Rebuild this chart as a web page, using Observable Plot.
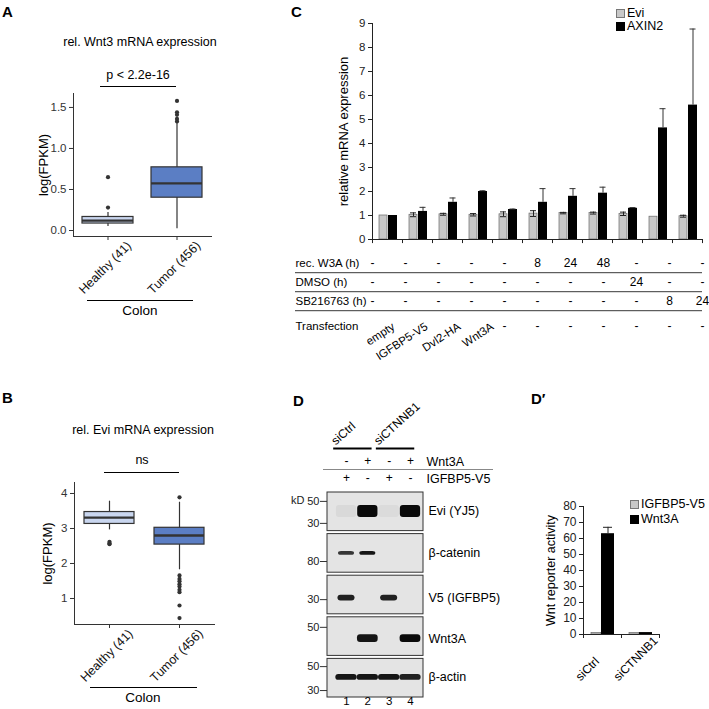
<!DOCTYPE html>
<html>
<head>
<meta charset="utf-8">
<script src="https://cdn.jsdelivr.net/npm/d3@7"></script>
<script src="https://cdn.jsdelivr.net/npm/@observablehq/plot@0.6"></script>
<style>
html,body{margin:0;padding:0;background:#fff;}
#fig{position:relative;width:709px;height:709px;overflow:hidden;background:#fff;font-family:"Liberation Sans",Arial,Helvetica,sans-serif;color:#000;}
#fig svg{position:absolute;overflow:visible;}
</style>
</head>
<body>
<div id="fig"></div>
<script>
// ---------------- DATA ----------------
// Panels A/B: box plot summaries (Healthy, Tumor)
const boxGroups = ["Healthy (41)", "Tumor (456)"];
const wnt3Low = [0.05, 0.02];
const wnt3Q1 = [0.085, 0.40];
const wnt3Median = [0.12, 0.575];
const wnt3Q3 = [0.165, 0.77];
const wnt3High = [0.22, 1.32];
const wnt3OutHealthy = [0.28, 0.65];
const wnt3OutTumor = [1.33, 1.36, 1.41, 1.44, 1.58];
const wnt3Ticks = [0, 0.5, 1.0, 1.5];

const eviLow = [2.96, 1.82];
const eviQ1 = [3.13, 2.54];
const eviMedian = [3.31, 2.8];
const eviQ3 = [3.47, 3.02];
const eviHigh = [3.78, 3.75];
const eviOutHealthy = [2.55, 2.58, 2.62];
const eviOutTumor = [3.89, 1.66, 1.56, 1.49, 1.41, 1.34, 1.25, 1.18, 0.8, 0.44];
const eviTicks = [1, 2, 3, 4];

// Panel C: relative mRNA expression
const conditions = ["empty", "IGFBP5-V5", "Dvl2-HA", "Wnt3A", "untreated", "W3A 8h", "W3A 24h", "W3A 48h", "DMSO 24h", "SB 8h", "SB 24h"];
const eviExpr = [1.0, 1.03, 1.05, 1.03, 1.05, 1.08, 1.1, 1.1, 1.07, 0.95, 0.97];
const eviErr = [0, 0.08, 0.04, 0.05, 0.1, 0.12, 0.03, 0.04, 0.07, 0, 0.04];
const axin2Expr = [1.0, 1.17, 1.55, 2.0, 1.25, 1.55, 1.8, 1.93, 1.3, 4.65, 5.6];
const axin2Err = [0, 0.17, 0.18, 0.03, 0.02, 0.57, 0.32, 0.25, 0.03, 0.8, 3.17];
const cTicks = [0, 1, 2, 3, 4, 5, 6, 7, 8, 9];
const tableRows = ["rec. W3A (h)", "DMSO (h)", "SB216763 (h)", "Transfection"];
const rowW3A = ["-", "-", "-", "-", "-", "8", "24", "48", "-", "-", "-"];
const rowDMSO = ["-", "-", "-", "-", "-", "-", "-", "-", "24", "-", "-"];
const rowSB = ["-", "-", "-", "-", "-", "-", "-", "-", "-", "8", "24"];
const rowTransfection = ["empty", "IGFBP5-V5", "Dvl2-HA", "Wnt3A", "-", "-", "-", "-", "-", "-", "-"];

// Panel D: western blot
const blotLanes = [1, 2, 3, 4];
const blotRows = ["Evi (YJ5)", "β-catenin", "V5 (IGFBP5)", "Wnt3A", "β-actin"];
const eviBand = [0.05, 1.0, 0.04, 1.0];
const bCateninBand = [0.8, 0.95, 0, 0];
const v5Band = [0.9, 0, 0.9, 0];
const wnt3aBand = [0, 0.95, 0, 1.0];
const bActinBand = [0.95, 0.95, 0.95, 0.9];
const wnt3aTreatment = ["-", "+", "-", "+"];
const igfbp5Transfection = ["+", "-", "+", "-"];
const siGroups = ["siCtrl", "siCTNNB1"];
const siLanes = [[1, 2], [3, 4]];
const markerRow = [0, 0, 1, 2, 3, 4, 4];
const markerKD = ["50", "30", "80", "30", "50", "50", "30"];
const markerPos = [0.23, 0.8, 0.71, 0.62, 0.26, 0.2, 0.82];

// Panel D′: Wnt reporter activity
const reporterGroups = ["siCtrl", "siCTNNB1"];
const reporterIGFBP5 = [1.0, 1.0];
const reporterWnt3A = [63.0, 1.2];
const reporterWnt3AErr = [4.0, 0.2];
const reporterTicks = [0, 10, 20, 30, 40, 50, 60, 70, 80];

// ---------------- HELPERS ----------------
const FONT = '"Liberation Sans", Arial, Helvetica, sans-serif';
const fig = document.getElementById("fig");
function addPlot(opts, left, top, fontSize = 11, color = "#222") {
  const svg = Plot.plot({...opts, style: {background: "transparent", overflow: "visible", fontFamily: FONT, fontSize: fontSize + "px", color}});
  svg.style.position = "absolute";
  svg.style.left = left + "px";
  svg.style.top = top + "px";
  fig.appendChild(svg);
  return svg;
}
function label(text, x, y, o = {}) {
  const d = document.createElement("div");
  d.textContent = text;
  const tx = o.anchor === "start" ? "0" : "-50%";
  d.style.cssText = `position:absolute;white-space:nowrap;left:${x}px;top:${y}px;font-size:${o.size || 12}px;font-weight:${o.bold ? "bold" : "normal"};transform:translate(${tx},-50%);line-height:1;color:${o.color || "#000"};`;
  fig.appendChild(d);
}
function hline(x1, x2, y, color = "#000", w = 1) {
  const d = document.createElement("div");
  d.style.cssText = `position:absolute;left:${x1}px;top:${y - w / 2}px;width:${x2 - x1}px;height:${w}px;background:${color};`;
  fig.appendChild(d);
}
function swatch(x, y, fill, stroke) {
  const d = document.createElement("div");
  d.style.cssText = `position:absolute;left:${x}px;top:${y - 4}px;width:7px;height:7px;background:${fill};border:1px solid ${stroke};`;
  fig.appendChild(d);
}

// ---------------- PANELS A & B ----------------
function boxPanel(c) {
  const g = boxGroups, idx = [0, 1];
  return addPlot({
    width: c.width, height: c.height,
    marginLeft: c.ml, marginRight: c.mr, marginTop: c.mt, marginBottom: c.mb,
    x: {domain: g, padding: 0, line: true, tickSize: 4, tickFormat: () => "", label: null},
    y: {domain: c.yDomain, ticks: c.ticks, tickFormat: c.fmt, line: true, tickSize: 4, tickPadding: 3, label: null},
    marks: [
      Plot.ruleX(idx, {x: i => g[i], y1: i => c.low[i], y2: i => c.high[i], stroke: "#333", strokeWidth: 1.2}),
      Plot.barY([0], {x: () => g[0], y1: () => c.q1[0], y2: () => c.q3[0], fill: c.fills[0], stroke: "#333", strokeWidth: 1.2, insetLeft: c.inset, insetRight: c.inset}),
      Plot.barY([1], {x: () => g[1], y1: () => c.q1[1], y2: () => c.q3[1], fill: c.fills[1], stroke: "#333", strokeWidth: 1.2, insetLeft: c.inset, insetRight: c.inset}),
      Plot.tickY(idx, {x: i => g[i], y: i => c.med[i], stroke: "#333", strokeWidth: 2.4, insetLeft: c.inset, insetRight: c.inset}),
      Plot.dot(c.outH, {x: () => g[0], y: d => d, r: 2.1, fill: "#333", stroke: "none"}),
      Plot.dot(c.outT, {x: () => g[1], y: d => d, r: 2.1, fill: "#333", stroke: "none"}),
      Plot.text(g, {x: d => d, text: d => d, frameAnchor: "bottom", textAnchor: "middle", dy: 34, rotate: -45, fontSize: 12.5, fill: "#111"}),
      Plot.text(["log(FPKM)"], {frameAnchor: "left", textAnchor: "middle", rotate: -90, dx: c.ylabDx, fontSize: 13, fill: "#000"})
    ]
  }, c.left, c.top, 11.5, "#333");
}

boxPanel({left: 0, top: 88, width: 230, height: 212, ml: 73, mr: 19, mt: 5, mb: 64,
  yDomain: [-0.073, 1.67], ticks: wnt3Ticks, fmt: d3.format(".1f"),
  low: wnt3Low, q1: wnt3Q1, med: wnt3Median, q3: wnt3Q3, high: wnt3High,
  outH: wnt3OutHealthy, outT: wnt3OutTumor, fills: ["#c9d5ee", "#5b7ec4"], inset: 9, ylabDx: -30});

boxPanel({left: 0, top: 478, width: 230, height: 210, ml: 74, mr: 16, mt: 4, mb: 64,
  yDomain: [0.257, 4.314], ticks: eviTicks, fmt: d3.format("d"),
  low: eviLow, q1: eviQ1, med: eviMedian, q3: eviQ3, high: eviHigh,
  outH: eviOutHealthy, outT: eviOutTumor, fills: ["#c9d6ef", "#5b7ec4"], inset: 10, ylabDx: -27});

label("A", 2, 11, {bold: true, size: 15, anchor: "start"});
label("rel. Wnt3 mRNA expression", 140, 42, {size: 12.5});
label("p < 2.2e-16", 138, 75, {size: 12.5});
hline(100, 176, 86, "#000", 1);
hline(87, 193, 300, "#000", 1);
label("Colon", 140, 311, {size: 13.5});

label("B", 2, 397, {bold: true, size: 15, anchor: "start"});
label("rel. Evi mRNA expression", 143, 430, {size: 12.5});
label("ns", 142, 460, {size: 12.5});
hline(104, 179, 472, "#000", 1);
hline(90, 197, 687, "#000", 1);
label("Colon", 143, 698, {size: 13.5});

// ---------------- PANEL C ----------------
const cIdx = d3.range(conditions.length);
addPlot({
  width: 419, height: 250, marginLeft: 82, marginRight: 7, marginTop: 23, marginBottom: 11,
  x: {domain: conditions, padding: 0, axis: null},
  y: {domain: [0, 9], ticks: cTicks, tickFormat: d3.format("d"), line: true, tickSize: 4, tickPadding: 3, label: null},
  marks: [
    Plot.barY(cIdx, {x: i => conditions[i], y: i => eviExpr[i], fill: "#c8c8c8", stroke: "#6a6a6a", strokeWidth: 0.7, insetLeft: 7, insetRight: 15}),
    Plot.barY(cIdx, {x: i => conditions[i], y: i => axin2Expr[i], fill: "#000", insetLeft: 16, insetRight: 5}),
    Plot.ruleX(cIdx.filter(i => eviErr[i] > 0), {x: i => conditions[i], y1: i => eviExpr[i] - eviErr[i], y2: i => eviExpr[i] + eviErr[i], dx: -4, stroke: "#222", strokeWidth: 1}),
    Plot.tickY(cIdx.filter(i => eviErr[i] > 0), {x: i => conditions[i], y: i => eviExpr[i] + eviErr[i], insetLeft: 8, insetRight: 16, stroke: "#222", strokeWidth: 1}),
    Plot.tickY(cIdx.filter(i => eviErr[i] > 0), {x: i => conditions[i], y: i => eviExpr[i] - eviErr[i], insetLeft: 8, insetRight: 16, stroke: "#222", strokeWidth: 1}),
    Plot.ruleX(cIdx.filter(i => axin2Err[i] > 0), {x: i => conditions[i], y1: i => axin2Expr[i], y2: i => axin2Expr[i] + axin2Err[i], dx: 5.5, stroke: "#333", strokeWidth: 1}),
    Plot.tickY(cIdx.filter(i => axin2Err[i] > 0), {x: i => conditions[i], y: i => axin2Expr[i] + axin2Err[i], insetLeft: 17.5, insetRight: 6.5, stroke: "#333", strokeWidth: 1}),
    Plot.ruleY([0], {stroke: "#222", strokeWidth: 1}),
    Plot.ruleX(conditions, {x: d => d, y1: 0, y2: -0.17, dx: -15, stroke: "#222"}),
    Plot.ruleX([conditions[conditions.length - 1]], {x: d => d, y1: 0, y2: -0.17, dx: 15, stroke: "#222"}),
    Plot.text(["relative mRNA expression"], {frameAnchor: "left", textAnchor: "middle", rotate: -90, dx: -29, fontSize: 13, fill: "#000"})
  ]
}, 290, 0, 11.5, "#222");

// table under C
const treatRows = [rowW3A, rowDMSO, rowSB];
const tableCells = treatRows.flatMap((r, ri) => r.map((v, ci) => ({row: tableRows[ri], cond: conditions[ci], v})));
addPlot({
  width: 419, height: 110, marginLeft: 82, marginRight: 7, marginTop: 12, marginBottom: 39,
  x: {domain: conditions, padding: 0, axis: null},
  y: {type: "point", domain: tableRows, padding: 0, axis: null},
  marks: [
    Plot.text(tableCells, {x: "cond", y: "row", text: "v", fontSize: 12, fill: "#000"}),
    Plot.text(cIdx.filter(i => rowTransfection[i] === "-"), {x: i => conditions[i], y: () => tableRows[3], text: i => rowTransfection[i], dy: 6, fontSize: 12, fill: "#000"}),
    Plot.text(cIdx.filter(i => rowTransfection[i] !== "-"), {x: i => conditions[i], y: () => tableRows[3], text: i => rowTransfection[i], rotate: -33, textAnchor: "end", dx: 21, dy: 5, fontSize: 11.5, fill: "#000"}),
    Plot.text(tableRows.slice(0, 3), {y: d => d, text: d => d, frameAnchor: "left", dx: -77, textAnchor: "start", fontSize: 11.5, fill: "#000"}),
    Plot.text(tableRows.slice(3), {y: d => d, text: d => d, frameAnchor: "left", dx: -77, dy: 6, textAnchor: "start", fontSize: 11.5, fill: "#000"}),
    Plot.ruleY(tableRows.slice(1), {y: d => d, dy: -9.8, insetLeft: -77, stroke: "#222", strokeWidth: 0.9})
  ]
}, 290, 250, 12, "#000");

label("C", 291, 11, {bold: true, size: 15, anchor: "start"});
swatch(616, 13, "#c8c8c8", "#777");
label("Evi", 627, 13, {size: 12.5, anchor: "start"});
swatch(616, 26, "#000", "#000");
label("AXIN2", 627, 26, {size: 12.5, anchor: "start"});

// ---------------- PANEL D (blot) ----------------
const xDom = [0.11, 4.61];
const rowH = 0.928;
const bandStyle = [
  {c: 0.49, t: 0.31, w: 0.95},
  {c: 0.5, t: 0.1, w: 0.75},
  {c: 0.58, t: 0.15, w: 0.8},
  {c: 0.55, t: 0.2, w: 0.97},
  {c: 0.48, t: 0.15, w: 1.0}
];
const bandSignals = [eviBand, bCateninBand, v5Band, wnt3aBand, bActinBand];
const bands = bandSignals.flatMap((sig, r) => sig.map((s, li) => ({r, lane: blotLanes[li], s})).filter(b => b.s > 0));
const mIdx = d3.range(markerKD.length);
const blotSvg = addPlot({
  width: 210, height: 225, marginLeft: 37, marginRight: 77, marginTop: 8, marginBottom: 12,
  x: {domain: xDom, axis: null},
  y: {domain: [0, 5 - (1 - rowH)], reverse: true, axis: null},
  marks: [
    Plot.rect(blotRows, {x1: () => xDom[0], x2: () => xDom[1], y1: (d, i) => i, y2: (d, i) => i + rowH, fill: "#e4e4e4", stroke: "#333", strokeWidth: 1}),
    Plot.rect(bands, {x1: b => b.lane - bandStyle[b.r].w / 2, x2: b => b.lane + bandStyle[b.r].w / 2,
      y1: b => b.r + (bandStyle[b.r].c - bandStyle[b.r].t / 2) * rowH, y2: b => b.r + (bandStyle[b.r].c + bandStyle[b.r].t / 2) * rowH,
      fill: "#0a0a0a", fillOpacity: b => b.s, rx: 3, ariaLabel: "bands"}),
    Plot.ruleY(mIdx, {y: i => markerRow[i] + markerPos[i] * rowH, x1: () => xDom[0] - 0.33, x2: () => xDom[0], stroke: "#333", strokeWidth: 1}),
    Plot.text(mIdx, {x: () => xDom[0] - 0.33, y: i => markerRow[i] + markerPos[i] * rowH, text: i => markerKD[i], textAnchor: "end", dx: -1, fontSize: 11, fill: "#222"}),
    Plot.text(["kD"], {x: () => xDom[0] - 0.33, y: () => markerRow[0] + markerPos[0] * rowH, textAnchor: "end", dx: -16, dy: -1, fontSize: 11, fill: "#222"}),
    Plot.text(blotRows, {y: (d, i) => i + bandStyle[i].c * rowH, text: d => d, frameAnchor: "right", dx: 5, textAnchor: "start", fontSize: 12.5, fill: "#000"}),
    Plot.text(blotLanes, {x: d => d, text: d => String(d), frameAnchor: "bottom", dy: 7, fontSize: 11.5, fill: "#000"})
  ]
}, 290, 484, 11, "#222");
// soften blot bands
(function () {
  const ns = "http://www.w3.org/2000/svg";
  const defs = document.createElementNS(ns, "defs");
  const f = document.createElementNS(ns, "filter");
  f.setAttribute("id", "bandblur");
  f.setAttribute("x", "-30%"); f.setAttribute("y", "-60%"); f.setAttribute("width", "160%"); f.setAttribute("height", "220%");
  const b = document.createElementNS(ns, "feGaussianBlur");
  b.setAttribute("stdDeviation", "1.1");
  f.appendChild(b); defs.appendChild(f); blotSvg.insertBefore(defs, blotSvg.firstChild);
  const g = blotSvg.querySelector('g[aria-label="bands"]');
  if (g) g.setAttribute("filter", "url(#bandblur)");
})();

// header above blot
const hdrRows = ["siRNA", "Wnt3A", "IGFBP5-V5"];
const lIdx = [0, 1, 2, 3];
addPlot({
  width: 220, height: 104, marginLeft: 37, marginRight: 87, marginTop: 68, marginBottom: 6,
  x: {domain: xDom, axis: null},
  y: {type: "point", domain: hdrRows, padding: 0, axis: null},
  marks: [
    Plot.ruleY([0, 1], {y: () => "siRNA", x1: i => siLanes[i][0] - 0.6, x2: i => siLanes[i][1] + 0.2, stroke: "#000", strokeWidth: 1.8}),
    Plot.text([0, 1], {x: i => siLanes[i][0] - 0.5, y: () => "siRNA", text: i => siGroups[i], rotate: -42, textAnchor: "start", lineAnchor: "bottom", dy: -3, fontSize: 12, fill: "#000"}),
    Plot.text(lIdx, {x: i => blotLanes[i], y: () => "Wnt3A", text: i => wnt3aTreatment[i], dy: -2, fontSize: 12, fill: "#000"}),
    Plot.text(lIdx, {x: i => blotLanes[i], y: () => "IGFBP5-V5", text: i => igfbp5Transfection[i], fontSize: 12, fill: "#000"}),
    Plot.text(["Wnt3A"], {y: d => d, text: d => d, frameAnchor: "right", dx: 3, dy: -2, textAnchor: "start", fontSize: 12.5, fill: "#000"}),
    Plot.text(["IGFBP5-V5"], {y: d => d, text: d => d, frameAnchor: "right", dx: 3, textAnchor: "start", fontSize: 12.5, fill: "#000"}),
    Plot.ruleY(["IGFBP5-V5"], {y: d => d, dy: -9, insetLeft: -4, insetRight: -70, stroke: "#888", strokeWidth: 1})
  ]
}, 290, 380, 12, "#000");
label("D", 293, 400, {bold: true, size: 15, anchor: "start"});

// ---------------- PANEL D′ ----------------
const rIdx = [0, 1];
addPlot({
  width: 169, height: 229, marginLeft: 43, marginRight: 50, marginTop: 26, marginBottom: 75,
  x: {domain: reporterGroups, padding: 0, axis: null},
  y: {domain: [0, 80], ticks: reporterTicks, tickFormat: d3.format("d"), line: true, tickSize: 4, tickPadding: 3, label: null},
  marks: [
    Plot.barY(rIdx, {x: i => reporterGroups[i], y: i => reporterIGFBP5[i], fill: "#c8c8c8", stroke: "#6a6a6a", strokeWidth: 0.7, insetLeft: 8, insetRight: 20}),
    Plot.barY(rIdx, {x: i => reporterGroups[i], y: i => reporterWnt3A[i], fill: "#000", insetLeft: 18, insetRight: 7}),
    Plot.ruleX([0], {x: i => reporterGroups[i], y1: i => reporterWnt3A[i], y2: i => reporterWnt3A[i] + reporterWnt3AErr[i], dx: 5.5, stroke: "#222", strokeWidth: 1}),
    Plot.tickY([0], {x: i => reporterGroups[i], y: i => reporterWnt3A[i] + reporterWnt3AErr[i], insetLeft: 20, insetRight: 9, stroke: "#222", strokeWidth: 1}),
    Plot.ruleY([0], {stroke: "#222", strokeWidth: 1}),
    Plot.ruleX(reporterGroups, {x: d => d, y1: 0, y2: -2.5, dx: -19, stroke: "#222"}),
    Plot.ruleX([reporterGroups[1]], {x: d => d, y1: 0, y2: -2.5, dx: 19, stroke: "#222"}),
    Plot.text(reporterGroups, {x: d => d, text: d => d, frameAnchor: "bottom", rotate: -45, textAnchor: "start", lineAnchor: "bottom", dx: -22, dy: 47, fontSize: 12, fill: "#000"}),
    Plot.text(["Wnt reporter activity"], {frameAnchor: "left", textAnchor: "middle", rotate: -90, dx: -33, fontSize: 12.5, fill: "#000"})
  ]
}, 540, 480, 12, "#222");
label("D′", 531, 398, {bold: true, size: 15, anchor: "start"});
swatch(630, 504, "#c8c8c8", "#777");
label("IGFBP5-V5", 641, 504, {size: 12.5, anchor: "start"});
swatch(630, 519, "#000", "#000");
label("Wnt3A", 641, 519, {size: 12.5, anchor: "start"});
</script>
</body>
</html>
